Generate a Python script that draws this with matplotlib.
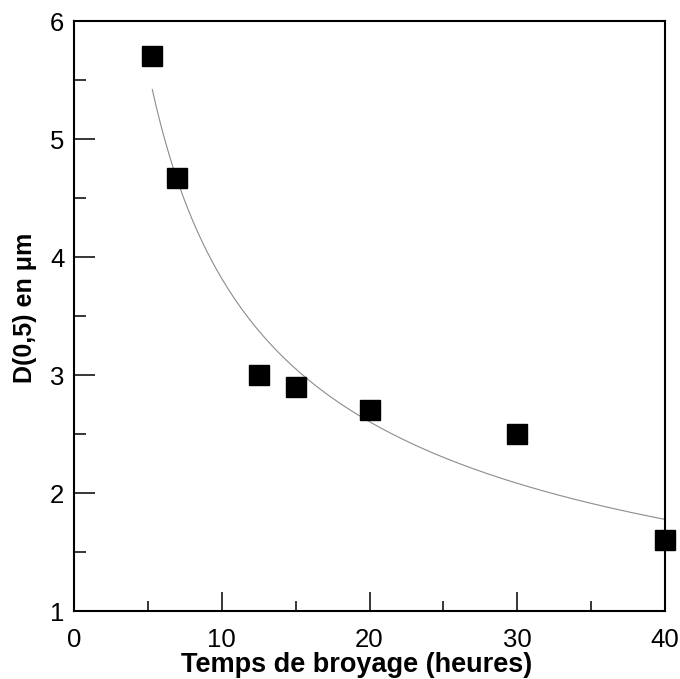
import numpy as np
import matplotlib.pyplot as plt
from matplotlib.ticker import MultipleLocator

plt.rcParams['font.family'] = ['Liberation Sans', 'DejaVu Sans']

# temps de broyage (heures) et D(0,5) en um
temps = [5.3, 7.0, 12.5, 15.0, 20.0, 30.0, 40.0]
d05 = [5.70, 4.67, 3.00, 2.90, 2.70, 2.50, 1.60]

# ajustement en loi puissance  y = a * x^b
b, ln_a = np.polyfit(np.log(temps), np.log(d05), 1)
xfit = np.linspace(min(temps), max(temps), 300)
yfit = np.exp(ln_a) * xfit ** b

fig = plt.figure(figsize=(6.8, 6.79), dpi=100)
ax = fig.add_axes([0.1088, 0.1001, 0.978 - 0.1088, 0.969 - 0.1001])

ax.plot(xfit, yfit, color='#8c8c8c', lw=0.8)
ax.plot(temps, d05, 's', color='black', markersize=14.4, clip_on=False, zorder=3)

ax.set_xlim(0, 40)
ax.set_ylim(1, 6)
ax.xaxis.set_major_locator(MultipleLocator(10))
ax.xaxis.set_minor_locator(MultipleLocator(5))
ax.yaxis.set_major_locator(MultipleLocator(1))
ax.yaxis.set_minor_locator(MultipleLocator(0.5))

ax.tick_params(which='both', direction='in', top=False, right=False, width=1.1, labelsize=18.5)
ax.tick_params(axis='x', which='major', length=14, pad=12)
ax.tick_params(axis='x', which='minor', length=7)
ax.tick_params(axis='y', which='major', length=15, pad=7)
ax.tick_params(axis='y', which='minor', length=8.5)
for s in ax.spines.values():
    s.set_linewidth(1.5)

ax.set_xlabel('Temps de broyage (heures)', fontsize=19.5, fontweight='bold')
ax.set_ylabel('D(0,5) en μm', fontsize=18, fontweight='bold')
ax.xaxis.set_label_coords(0.479, -0.07)
ax.yaxis.set_label_coords(-0.063, 0.513)

fig.savefig('out.png', dpi=100)
